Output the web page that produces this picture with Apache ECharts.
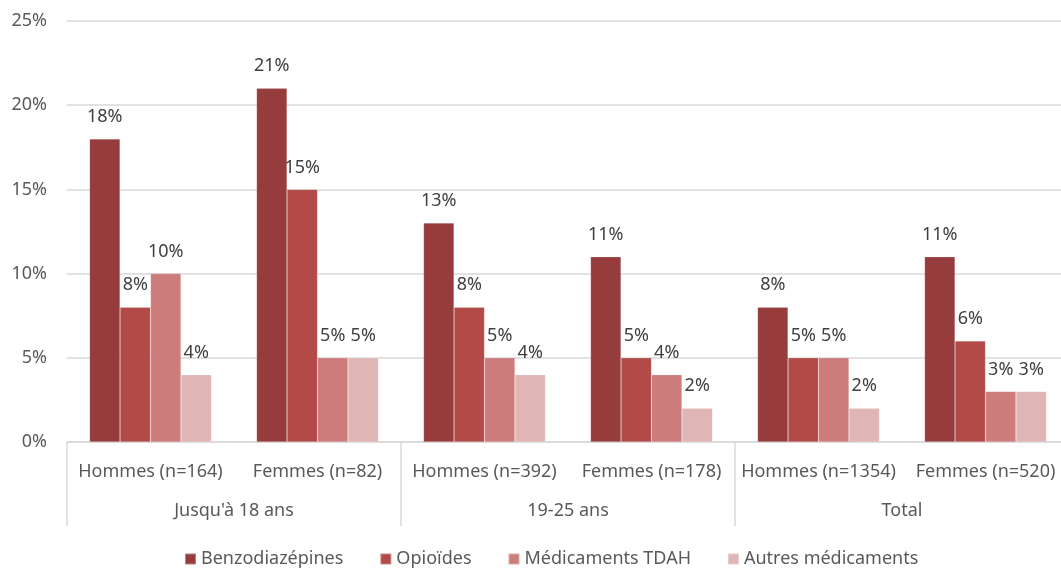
<!DOCTYPE html>
<html>
<head>
<meta charset="utf-8">
<script src="https://cdn.jsdelivr.net/npm/echarts@6/dist/echarts.min.js"></script>
<style>
  html, body { margin: 0; padding: 0; background: #fff; }
  #chart { width: 1061px; height: 569px; }
</style>
</head>
<body>
<div id="chart"></div>
<script>
const categories = ['Hommes (n=164)', 'Femmes (n=82)', 'Hommes (n=392)', 'Femmes (n=178)', 'Hommes (n=1354)', 'Femmes (n=520)']
const groups = ["Jusqu'à 18 ans", '19-25 ans', 'Total']
const benzo = [18, 21, 13, 11, 8, 11]
const opioides = [8, 15, 8, 5, 5, 6]
const tdah = [10, 5, 5, 4, 5, 3]
const autres = [4, 5, 4, 2, 2, 3]

const font = 'Noto Sans'
const textColor = '#595959'

function bar(name, data, color) {
  return {
    name,
    type: 'bar',
    data,
    barGap: 0,
    barCategoryGap: '27%',
    itemStyle: { color, borderColor: 'rgba(255,255,255,0.35)', borderWidth: 0.5 },
    label: {
      show: true,
      position: 'top',
      distance: 13,
      formatter: '{c}%',
      color: '#404040',
      fontFamily: font,
      fontSize: 18,
    },
  }
}

const chart = echarts.init(document.getElementById('chart'))
chart.setOption({
  animation: false,
  textStyle: { fontFamily: font },
  grid: { left: 67, top: 21, width: 1002, bottom: 127, containLabel: false, outerBoundsMode: 'none' },
  legend: {
    bottom: 1,
    padding: 0,
    left: 184,
    itemWidth: 11,
    itemHeight: 11,
    itemGap: 36,
    icon: 'rect',
    textStyle: { color: textColor, fontSize: 18, fontFamily: font },
    data: ['Benzodiazépines', 'Opioïdes', 'Médicaments TDAH', 'Autres médicaments'],
  },
  xAxis: [
    {
      type: 'category',
      data: categories,
      axisLine: { lineStyle: { color: '#d9d9d9', width: 1.5 } },
      axisTick: { show: false },
      axisLabel: { color: textColor, fontSize: 18, margin: 21, interval: 0 },
    },
    {
      type: 'category',
      data: groups,
      position: 'bottom',
      axisLine: { show: false },
      axisTick: { show: true, length: 84, lineStyle: { color: '#d9d9d9', width: 1.5 } },
      axisLabel: { color: textColor, fontSize: 18, margin: 60, interval: 0 },
    },
  ],
  yAxis: {
    type: 'value',
    min: 0,
    max: 25,
    interval: 5,
    axisLine: { show: false },
    axisTick: { show: false },
    splitLine: { lineStyle: { color: '#d9d9d9', width: 1.5 } },
    axisLabel: { formatter: '{value}%', color: textColor, fontSize: 18, margin: 20 },
  },
  series: [
    bar('Benzodiazépines', benzo, '#963c3c'),
    bar('Opioïdes', opioides, '#b24a48'),
    bar('Médicaments TDAH', tdah, '#cb7c7b'),
    bar('Autres médicaments', autres, '#e0b5b5'),
  ],
})
</script>
</body>
</html>
